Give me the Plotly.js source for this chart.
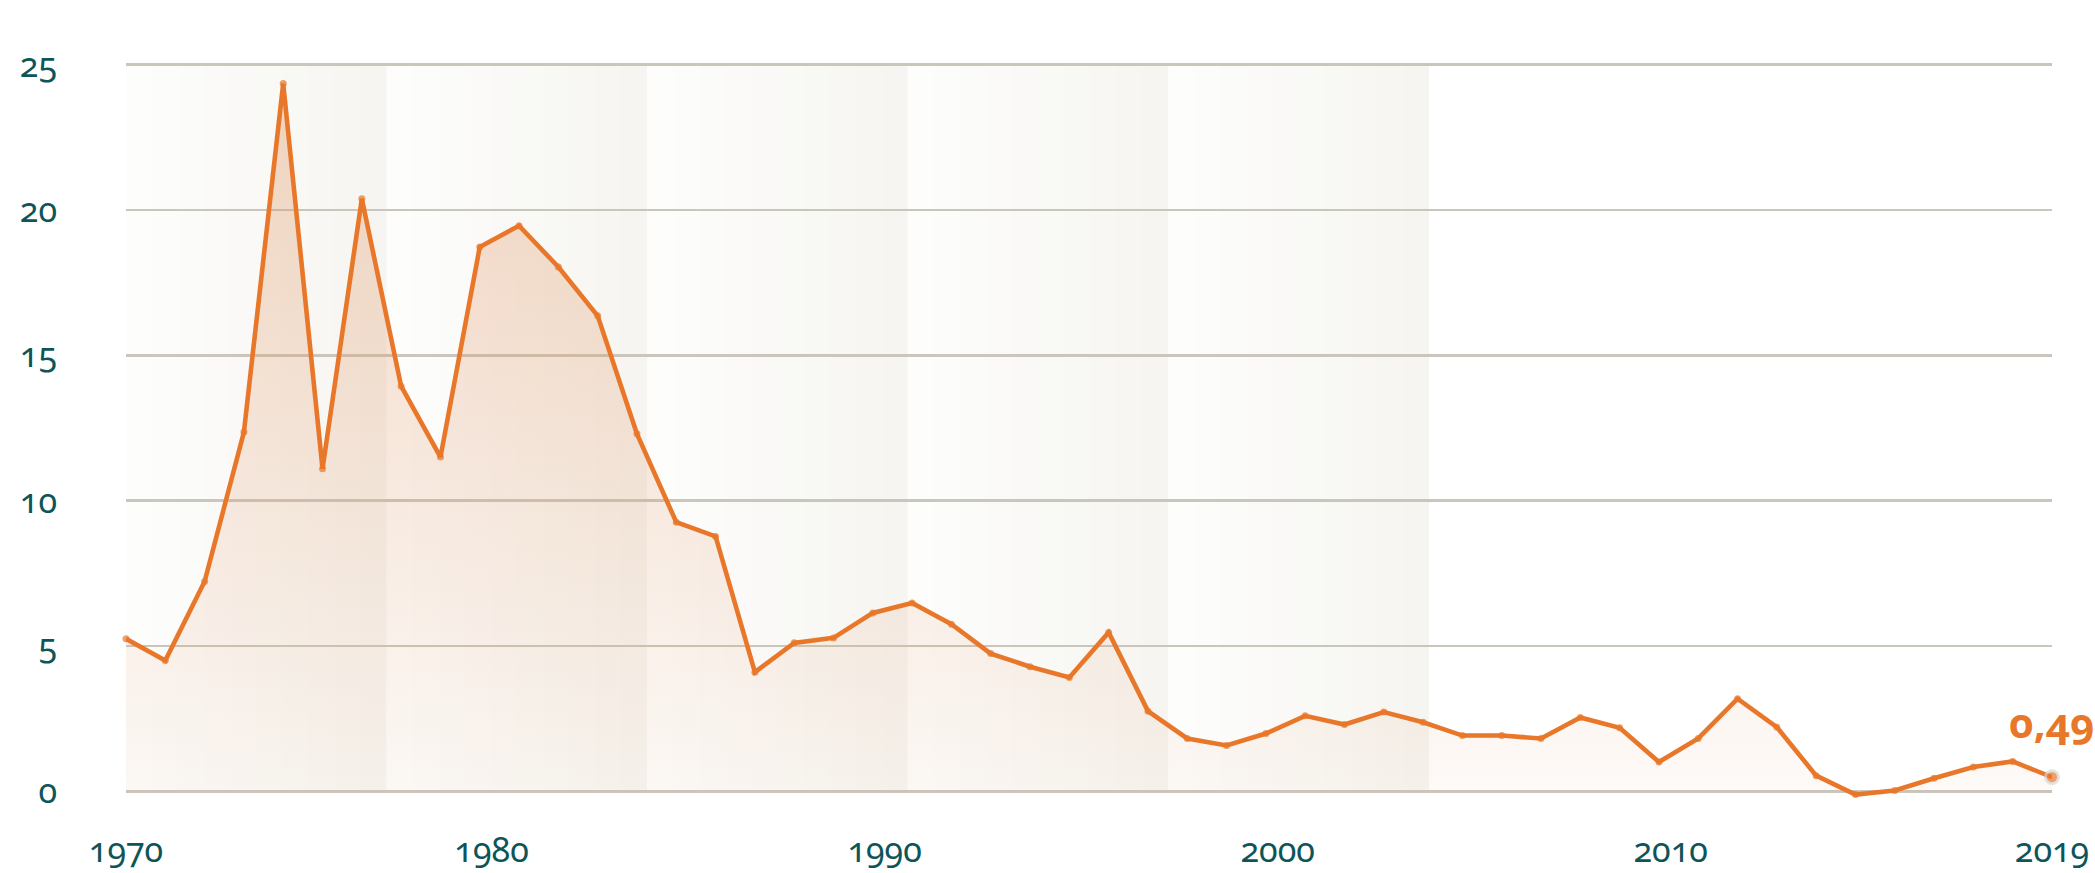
<!DOCTYPE html>
<html>
<head>
<meta charset="utf-8">
<script src="https://cdn.plot.ly/plotly-3.0.1.min.js"></script>
<style>
html, body { margin: 0; padding: 0; background: #ffffff; }
#chart { width: 2095px; height: 873px; }
.main-svg text { font-variant-numeric: oldstyle-nums !important; font-feature-settings: "onum" 1 !important; }
</style>
</head>
<body>
<div id="chart"></div>
<script>
// ---- data ----
const years = [1970,1971,1972,1973,1974,1975,1976,1977,1978,1979,
               1980,1981,1982,1983,1984,1985,1986,1987,1988,1989,
               1990,1991,1992,1993,1994,1995,1996,1997,1998,1999,
               2000,2001,2002,2003,2004,2005,2006,2007,2008,2009,
               2010,2011,2012,2013,2014,2015,2016,2017,2018,2019];
const values = [5.25,4.50,7.22,12.36,24.35,11.10,20.39,13.94,11.50,18.73,
                19.46,18.04,16.36,12.30,9.26,8.77,4.10,5.11,5.28,6.14,
                6.48,5.75,4.74,4.29,3.92,5.47,2.76,1.82,1.58,1.99,
                2.60,2.30,2.73,2.38,1.92,1.92,1.82,2.54,2.19,1.01,
                1.82,3.19,2.21,0.54,-0.11,0.03,0.45,0.84,1.03,0.49];
// tick labels and where the reference places them along the year axis
const xTickLabels = ['1970', '1980', '1990', '2000', '2010', '2019'];
const xTickPositions = [1970, 1979.3, 1989.3, 1999.3, 2009.3, 2019];
const yTickValues = [0, 5, 10, 15, 20, 25];

// ---- styling ----
const ORANGE = '#e8772a';
const TEAL = '#0d5559';
const FONT = 'Noto Sans, Open Sans, sans-serif';
const last = values.length - 1;
const lastLabel = values[last].toFixed(2).replace('.', ',');

// background bands (decoration)
const bandStart = 1970, bandWidth = 6.63, bandCount = 5, steps = 10;
const shapes = [];
function lerp(a, b, t) { return Math.round(a + (b - a) * t); }
for (let b = 0; b < bandCount; b++) {
  for (let s = 0; s < steps; s++) {
    const x0 = bandStart + b * bandWidth + s * bandWidth / steps;
    const x1 = x0 + bandWidth / steps + (s < steps - 1 ? 0.02 : 0);
    const t = s / (steps - 1);
    const col = 'rgb(' + lerp(253, 246, t) + ',' + lerp(253, 245, t) + ',' + lerp(252, 242, t) + ')';
    shapes.push({type: 'rect', xref: 'x', yref: 'y', x0: x0, x1: x1, y0: 0, y1: 25,
                 fillcolor: col, line: {width: 0}, layer: 'below'});
  }
}

const sizes = values.map((v, i) => i === last ? 13 : 7);
const mLineW = values.map((v, i) => i === last ? 3 : 0);
const mLineC = values.map((v, i) => i === last ? 'rgba(215,215,215,0.9)' : ORANGE);

const trace = {
  x: years, y: values, type: 'scatter', mode: 'lines+markers',
  line: {color: ORANGE, width: 4.6},
  marker: {color: ORANGE, size: sizes, line: {color: mLineC, width: mLineW}},
  fill: 'tozeroy',
  fillgradient: {type: 'vertical', start: 0, stop: 25,
    colorscale: [[0, 'rgba(224,149,98,0.05)'], [1, 'rgba(224,149,98,0.38)']]},
  cliponaxis: false, hoverinfo: 'skip'
};

const layout = {
  width: 2095, height: 873,
  margin: {l: 126, r: 43, t: 56, b: 70, pad: 0},
  paper_bgcolor: '#ffffff', plot_bgcolor: 'rgba(0,0,0,0)',
  showlegend: false,
  xaxis: {range: [1970, 2019], tickvals: xTickPositions, ticktext: xTickLabels,
          showgrid: false, zeroline: false, showline: false, ticks: '',
          tickfont: {family: FONT, size: 34, color: TEAL}, ticklabelstandoff: 24, fixedrange: true},
  yaxis: {range: [-0.4, 25.3], tickvals: yTickValues, ticktext: yTickValues.map(String),
          showgrid: true, gridcolor: '#cac6bc', gridwidth: 2.5, zeroline: false, showline: false, ticks: '',
          tickfont: {family: FONT, size: 34, color: TEAL}, ticklabelstandoff: 68, fixedrange: true},
  shapes: shapes,
  annotations: [{x: years[last], y: values[last], xref: 'x', yref: 'y', text: lastLabel,
                 showarrow: false, yshift: 56,
                 font: {family: FONT, size: 42, color: ORANGE, weight: 700}}]
};

Plotly.newPlot('chart', [trace], layout, {staticPlot: true, displayModeBar: false});
</script>
</body>
</html>
